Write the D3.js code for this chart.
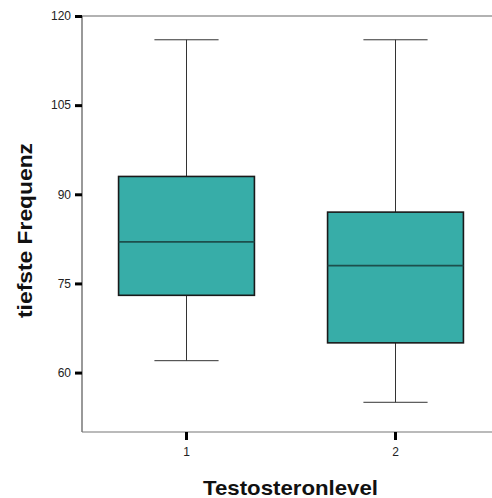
<!DOCTYPE html>
<html>
<head>
<meta charset="utf-8">
<script src="https://cdn.jsdelivr.net/npm/d3@7"></script>
<style>
  html, body { margin: 0; padding: 0; background: #fff; }
  svg { display: block; }
  text { font-family: "Liberation Sans", Arial, sans-serif; }
</style>
</head>
<body>
<svg id="chart" width="492" height="498"></svg>
<script>
// Data
const categories = ["1", "2"];
const whiskerLow  = [62, 55];
const q1          = [73, 65];
const median      = [82, 78];
const q3          = [93, 87];
const whiskerHigh = [116, 116];
const yTicks = [60, 75, 90, 105, 120];
const xTitle = "Testosteronlevel";
const yTitle = "tiefste Frequenz";

const svg = d3.select("#chart");
const mLeft = 82, mRight = 500, mTop = 16, mBottom = 432;

const x = d3.scaleBand().domain(categories).range([mLeft, mRight]).padding(0);
const y = d3.scaleLinear().domain([50, 120]).range([mBottom, mTop]);

const boxW = x.bandwidth() * 0.65;
const capW = x.bandwidth() * 0.307;

// frame line on top
svg.append("line").attr("x1", mLeft).attr("x2", 492).attr("y1", mTop).attr("y2", mTop)
  .attr("stroke", "#999").attr("stroke-width", 1.5);

const data = categories.map((c, i) => ({
  c, lo: whiskerLow[i], q1: q1[i], med: median[i], q3: q3[i], hi: whiskerHigh[i]
}));

const g = svg.append("g");
data.forEach(d => {
  const cx = x(d.c) + x.bandwidth() / 2;
  g.append("line").attr("x1", cx).attr("x2", cx).attr("y1", y(d.hi)).attr("y2", y(d.q3))
    .attr("stroke", "#333").attr("stroke-width", 1);
  g.append("line").attr("x1", cx).attr("x2", cx).attr("y1", y(d.q1)).attr("y2", y(d.lo))
    .attr("stroke", "#333").attr("stroke-width", 1);
  g.append("line").attr("x1", cx - capW / 2).attr("x2", cx + capW / 2).attr("y1", y(d.hi)).attr("y2", y(d.hi))
    .attr("stroke", "#333").attr("stroke-width", 1);
  g.append("line").attr("x1", cx - capW / 2).attr("x2", cx + capW / 2).attr("y1", y(d.lo)).attr("y2", y(d.lo))
    .attr("stroke", "#333").attr("stroke-width", 1);
  g.append("rect").attr("x", cx - boxW / 2).attr("y", y(d.q3))
    .attr("width", boxW).attr("height", y(d.q1) - y(d.q3))
    .attr("fill", "#37ada8").attr("stroke", "#1a1a1a").attr("stroke-width", 1.6);
  g.append("line").attr("x1", cx - boxW / 2).attr("x2", cx + boxW / 2).attr("y1", y(d.med)).attr("y2", y(d.med))
    .attr("stroke", "#1d4f4c").attr("stroke-width", 1.6);
});

// Y axis
const yAxis = d3.axisLeft(y).tickValues(yTicks).tickSize(7).tickPadding(4).tickFormat(d3.format("d"));
const ya = svg.append("g").attr("transform", `translate(${mLeft},0)`).call(yAxis);
ya.select(".domain").attr("d", `M0,${mTop}V${mBottom}`).attr("stroke", "#555").attr("stroke-width", 1.2);
ya.selectAll(".tick line").attr("stroke", "#000").attr("stroke-width", 3);
ya.selectAll(".tick text").attr("font-size", 12).attr("fill", "#222")
  .attr("font-family", "Liberation Sans, Arial, sans-serif");

// X axis
const xAxis = d3.axisBottom(x).tickSize(8).tickPadding(7);
const xa = svg.append("g").attr("transform", `translate(0,${mBottom})`).call(xAxis);
xa.select(".domain").attr("d", `M${mLeft},0H492`).attr("stroke", "#777").attr("stroke-width", 1.2);
xa.selectAll(".tick line").attr("stroke", "#000").attr("stroke-width", 3);
xa.selectAll(".tick text").attr("font-size", 12).attr("fill", "#222")
  .attr("font-family", "Liberation Sans, Arial, sans-serif");

// titles
svg.append("text").attr("x", 290.5).attr("y", 495).attr("text-anchor", "middle")
  .attr("font-size", 21).attr("font-weight", "bold").attr("fill", "#111")
  .attr("textLength", 175).attr("lengthAdjust", "spacingAndGlyphs").text(xTitle);
svg.append("text").attr("transform", "translate(32,230.5) rotate(-90)").attr("text-anchor", "middle")
  .attr("font-size", 20).attr("font-weight", "bold").attr("fill", "#111")
  .attr("textLength", 175).attr("lengthAdjust", "spacingAndGlyphs").text(yTitle);
</script>
</body>
</html>
